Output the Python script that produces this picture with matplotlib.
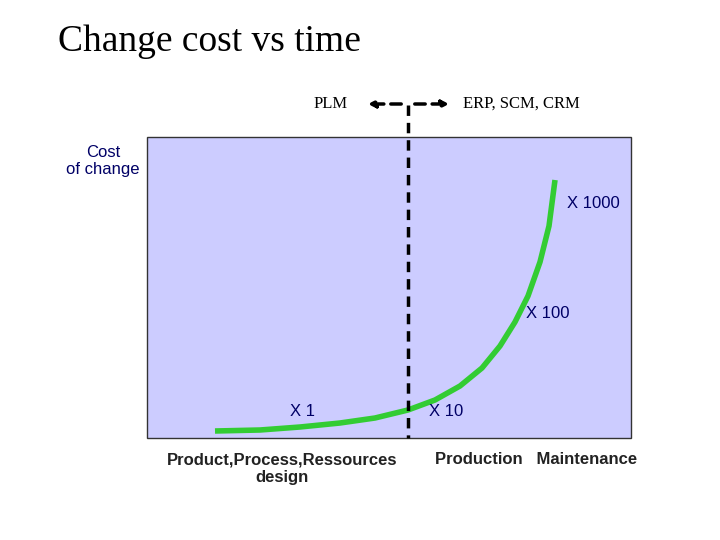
import matplotlib.pyplot as plt
from matplotlib.patches import Rectangle

# curve (pixel coordinates of the slide)
curve_x = [215, 260, 300, 340, 375, 408, 435, 460, 482, 500, 515, 528, 540, 549, 555]
curve_y = [431, 430, 427, 423, 418, 410, 400, 386, 368, 346, 322, 296, 262, 226, 180]

multipliers = ["X 1", "X 10", "X 100", "X 1000"]
mult_pos = [(302, 411), (446, 411), (548, 314), (593, 203)]

fig = plt.figure(figsize=(7.2, 5.4), dpi=100)
ax = fig.add_axes([0, 0, 1, 1])
ax.set_xlim(0, 720)
ax.set_ylim(540, 0)
ax.axis("off")

ax.add_patch(Rectangle((147, 137), 484, 301, facecolor="#ccccff", edgecolor="#333333", lw=1))
ax.plot(curve_x, curve_y, color="#33cc33", lw=4, solid_capstyle="butt")
ax.plot([408, 408], [105, 438], color="black", lw=2.5, ls=(0, (3, 2)))
ax.annotate("", xy=(365, 104), xytext=(404, 104),
            arrowprops=dict(arrowstyle="-|>", color="black", lw=2.5, ls=(0, (3, 2))))
ax.annotate("", xy=(452, 104), xytext=(412, 104),
            arrowprops=dict(arrowstyle="-|>", color="black", lw=2.5, ls=(0, (3, 2))))

ax.text(58, 42, "Change cost vs time", fontsize=27, family="Liberation Serif", va="center")
ax.text(331, 104, "PLM", fontsize=12, family="Liberation Serif", ha="center", va="center")
ax.text(521, 104, "ERP, SCM, CRM", fontsize=12, family="Liberation Serif", ha="center", va="center")
ax.text(103, 161, "Cost\nof change", fontsize=12, family="Liberation Sans", ha="center",
        va="center", color="#000066", linespacing=1.1)
for label, (x, y) in zip(multipliers, mult_pos):
    ax.text(x, y, label, fontsize=12, family="Liberation Sans", ha="center", va="center",
            color="#000066")
ax.text(282, 469, "Product,Process,Ressources\ndesign", fontsize=12, family="Liberation Sans",
        ha="center", va="center", fontweight="bold", color="#222222", linespacing=1.2)
ax.text(536, 459, "Production   Maintenance", fontsize=12, family="Liberation Sans",
        ha="center", va="center", fontweight="bold", color="#222222")

fig.savefig("out.png", dpi=100)
